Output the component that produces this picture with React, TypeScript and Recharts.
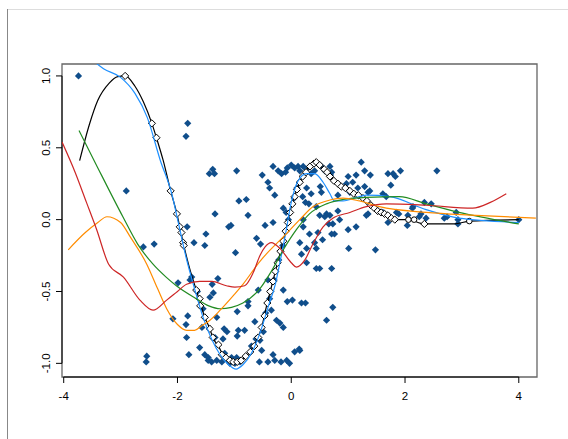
import React from "react";
import {
  ComposedChart,
  Line,
  Scatter,
  XAxis,
  YAxis,
  ReferenceLine,
  ReferenceArea,
} from "recharts";

// plot limits (R style: box a bit wider than ticks)
const X0 = -4.03;
const X1 = 4.32;
const Y0 = -1.095;
const Y1 = 1.083;

const xTicks = [-4, -2, 0, 2, 4];
const yTicks = [-1, -0.5, 0, 0.5, 1];

// observed points [x, y]
const observed: [number, number][] = [
  [-3.74, 1.0], [-2.9, 0.2], [-1.82, 0.67], [-1.85, 0.58], [-1.44, 0.32], [-1.38, 0.35], [-1.35, 0.32],
  [-1.34, 0.04], [-1.1, -0.05], [-1.83, -0.05], [-1.5, -0.1], [-1.71, -0.16], [-1.52, -0.18],
  [-2.6, -0.19], [-2.41, -0.17], [-1.99, -0.44], [-1.78, -0.42], [-1.29, -0.41], [-1.39, -0.45],
  [-1.43, -0.54], [-1.37, -0.51], [-2.08, -0.69], [-1.82, -0.67], [-1.85, -0.73], [-1.31, -0.68],
  [-1.57, -0.75], [-1.18, -0.76], [-1.84, -0.82], [-1.34, -0.82], [-1.61, -0.89], [-1.8, -0.94],
  [-1.52, -0.94], [-1.46, -0.98], [-1.4, -0.99], [-1.31, -0.98], [-1.22, -0.99], [-2.54, -0.95],
  [-2.55, -0.99], [-1.17, -0.93], [-1.11, -0.98], [-1.08, -1.0], [-0.99, -1.0], [-0.9, -0.99],
  [-0.96, -0.96], [-1.05, -0.96], [-1.46, -0.96], [-1.13, -0.78], [-1.2, -0.83], [-0.95, -0.64],
  [-0.76, -0.57], [-0.76, -0.6], [-0.58, -0.49], [-0.14, -0.49], [-0.07, -0.57], [0.02, -0.56],
  [0.18, -0.58], [0.25, -0.58], [0.27, -0.3], [0.44, -0.34], [0.5, -0.34], [0.71, -0.34],
  [0.73, -0.61], [0.62, -0.7], [-0.93, -0.77], [-0.82, -0.77], [-0.95, -0.81], [-0.64, -0.71],
  [-0.49, -0.78], [-0.55, -0.84], [-0.35, -0.63], [-0.26, -0.7], [-0.2, -0.72], [-0.14, -0.75],
  [-0.52, -0.91], [-0.32, -0.94], [-0.56, -0.99], [-0.41, -0.99], [-0.29, -0.98], [-0.18, -0.99],
  [-0.08, -0.98], [-0.03, -1.0], [0.06, -0.92], [0.14, -0.9], [-0.41, -0.42], [0.15, -0.91],
  [-0.96, 0.34], [-0.92, 0.13], [-0.79, 0.14], [-0.76, 0.03], [-1.06, -0.04], [-0.51, 0.31],
  [-0.32, 0.37], [-0.23, 0.34], [-0.17, 0.32], [-0.1, 0.33], [-0.07, 0.36], [0.0, 0.38],
  [0.06, 0.36], [0.12, 0.37], [0.15, 0.34], [0.21, 0.37], [-0.41, 0.26], [-0.38, 0.22],
  [-0.29, 0.17], [-0.14, 0.08], [-0.09, 0.05], [-0.32, -0.02], [-0.46, -0.04], [-0.61, -0.13],
  [-0.54, -0.17], [-0.98, -0.23], [0.15, -0.16], [0.18, -0.24], [-0.7, -0.88], [-0.62, -0.83],
  [-0.45, -0.65], [-0.38, -0.55], [-0.3, -0.42], [-0.22, -0.28], [-0.15, -0.18], [-0.05, 0.0],
  [0.05, 0.15], [0.1, 0.22], [-1.75, -0.4], [-1.65, -0.5], [-1.55, -0.62],
  [0.27, 0.35], [0.35, 0.32], [0.41, 0.34], [0.53, 0.37], [0.59, 0.34], [0.68, 0.37], [0.71, 0.33],
  [1.23, 0.4], [1.29, 0.34], [1.39, 0.31], [1.0, 0.3], [1.14, 0.31], [1.29, 0.23], [0.27, 0.22],
  [0.2, 0.16], [0.35, 0.18], [0.53, 0.19], [0.51, 0.23], [0.31, 0.11], [0.44, 0.09], [0.82, 0.17],
  [1.03, 0.19], [1.17, 0.22], [0.62, 0.04], [0.68, 0.03], [0.59, 0.02], [0.82, 0.06], [0.85, 0.0],
  [0.73, -0.03], [0.66, -0.03], [0.76, -0.1], [0.21, 0.0], [0.21, -0.05], [0.32, -0.1], [0.47, -0.09],
  [0.71, -0.1], [0.55, -0.14], [0.41, -0.16], [1.0, -0.07], [1.14, -0.05], [0.44, -0.2], [0.27, -0.2],
  [1.01, -0.2], [1.48, -0.21], [0.97, 0.25], [1.08, 0.26], [0.69, 0.31], [0.25, 0.12], [0.5, 0.03],
  [1.7, 0.32], [1.79, 0.32], [1.83, 0.3], [1.92, 0.34], [1.75, 0.24], [2.56, 0.34], [1.61, 0.18],
  [1.67, 0.16], [1.52, 0.06], [1.61, 0.05], [1.7, -0.02], [1.85, 0.05], [1.89, 0.04], [2.05, 0.03],
  [2.04, -0.04], [2.14, 0.09], [2.34, 0.12], [2.46, 0.11], [2.28, 0.04], [2.25, 0.02], [2.37, 0.01],
  [2.69, 0.01], [2.74, 0.02], [2.9, 0.05], [2.93, 0.0], [2.93, -0.03], [4.0, 0.0], [1.35, 0.04],
  [1.32, 0.03], [1.38, 0.2], [1.35, 0.19], [2.13, 0.08],
];

// black fit (line) and its marked points
const blackFit: [number, number][] = [
  [-3.72, 0.41], [-3.55, 0.66], [-3.4, 0.83], [-3.2, 0.95], [-3.05, 0.995], [-2.92, 1.0],
  [-2.75, 0.93], [-2.6, 0.82], [-2.45, 0.67], [-2.37, 0.57], [-2.25, 0.41], [-2.12, 0.2],
  [-2.01, 0.04], [-1.96, -0.05], [-1.9, -0.16], [-1.8, -0.32], [-1.67, -0.49], [-1.6, -0.58],
  [-1.52, -0.68], [-1.43, -0.76], [-1.38, -0.82], [-1.28, -0.88], [-1.2, -0.94], [-1.1, -0.98],
  [-0.99, -0.99], [-0.9, -0.98], [-0.82, -0.96], [-0.67, -0.89], [-0.52, -0.75], [-0.44, -0.61],
  [-0.35, -0.47], [-0.26, -0.33], [-0.2, -0.24], [-0.11, -0.1], [-0.03, 0.04], [0.03, 0.13],
  [0.12, 0.23], [0.21, 0.31], [0.3, 0.36], [0.44, 0.4], [0.55, 0.36], [0.68, 0.3], [0.85, 0.24],
  [1.03, 0.2], [1.26, 0.15], [1.46, 0.08], [1.64, 0.04], [1.82, 0.0], [2.05, 0.0], [2.34, -0.03],
  [2.64, -0.03], [2.87, -0.03], [3.13, -0.01], [4.0, 0.0],
];

const blackMarks: [number, number][] = [
  [-2.92, 1.0], [-2.45, 0.67], [-2.37, 0.57], [-2.12, 0.2], [-2.01, 0.04], [-1.96, -0.05],
  [-1.93, -0.09], [-1.9, -0.16], [-1.89, -0.18], [-1.67, -0.49], [-1.61, -0.55], [-1.6, -0.6],
  [-1.52, -0.68], [-1.43, -0.76], [-1.38, -0.82], [-1.28, -0.87], [-1.22, -0.94], [-1.15, -0.96],
  [-1.08, -0.98], [-1.02, -0.99], [-0.95, -0.99], [-0.88, -0.98], [-0.8, -0.95], [-0.72, -0.92],
  [-0.65, -0.88], [-0.58, -0.82], [-0.52, -0.75], [-0.47, -0.67], [-0.42, -0.58], [-0.37, -0.5],
  [-0.32, -0.43], [-0.28, -0.36], [-0.24, -0.3], [-0.19, -0.22], [-0.14, -0.15], [-0.1, -0.08],
  [-0.06, -0.02], [-0.02, 0.05], [0.02, 0.11], [0.06, 0.16], [0.1, 0.21], [0.15, 0.26], [0.2, 0.3],
  [0.26, 0.33], [0.33, 0.37], [0.4, 0.39], [0.44, 0.4], [0.5, 0.38], [0.58, 0.35], [0.63, 0.33],
  [0.68, 0.3], [0.75, 0.27], [0.82, 0.25], [0.88, 0.23], [0.95, 0.22], [1.03, 0.2], [1.1, 0.18],
  [1.18, 0.17], [1.26, 0.15], [1.33, 0.13], [1.4, 0.1], [1.46, 0.08], [1.52, 0.06], [1.58, 0.05],
  [1.64, 0.04], [1.7, 0.03], [1.76, 0.01], [1.82, 0.0], [2.34, -0.03],
];

const blackCircles: [number, number][] = [[2.06, 0.0], [2.16, 0.0], [3.13, -0.01]];

const blueFit: [number, number][] = [
  [-3.55, 1.13], [-3.3, 1.05], [-3.0, 0.99], [-2.75, 0.88], [-2.53, 0.71], [-2.3, 0.41],
  [-2.1, 0.18], [-1.98, -0.03], [-1.85, -0.26], [-1.7, -0.48], [-1.55, -0.68], [-1.4, -0.83],
  [-1.25, -0.94], [-1.1, -1.01], [-0.97, -1.04], [-0.85, -1.01], [-0.7, -0.93], [-0.55, -0.79],
  [-0.4, -0.6], [-0.28, -0.45], [-0.2, -0.3], [-0.11, -0.12], [0.0, 0.12], [0.12, 0.27],
  [0.27, 0.32], [0.41, 0.32], [0.56, 0.26], [0.68, 0.18], [0.76, 0.13], [0.91, 0.13], [1.2, 0.16],
  [1.32, 0.17], [1.73, 0.16], [2.37, 0.07], [2.95, 0.01], [4.0, -0.02],
];

const greenFit: [number, number][] = [
  [-3.73, 0.62], [-3.4, 0.36], [-2.96, 0.02], [-2.7, -0.17], [-2.43, -0.31], [-2.2, -0.4],
  [-2.02, -0.46], [-1.67, -0.55], [-1.45, -0.6], [-1.25, -0.62], [-1.05, -0.61], [-0.85, -0.58],
  [-0.55, -0.48], [-0.35, -0.36], [-0.14, -0.21], [0.09, -0.07], [0.32, 0.04], [0.62, 0.11],
  [0.91, 0.14], [1.32, 0.155], [1.9, 0.16], [2.37, 0.11], [2.95, 0.05], [4.0, -0.03],
];

const orangeFit: [number, number][] = [
  [-3.92, -0.21], [-3.62, -0.09], [-3.4, -0.02], [-3.24, 0.02], [-3.0, -0.02], [-2.83, -0.12],
  [-2.54, -0.31], [-2.35, -0.48], [-2.19, -0.62], [-2.0, -0.73], [-1.84, -0.77], [-1.7, -0.77],
  [-1.58, -0.74], [-1.43, -0.7], [-1.25, -0.63], [-1.0, -0.52], [-0.85, -0.45], [-0.55, -0.29],
  [-0.44, -0.24], [-0.14, -0.12], [0.15, 0.0], [0.38, 0.09], [0.62, 0.13], [0.91, 0.15],
  [1.2, 0.13], [1.55, 0.09], [2.37, 0.05], [3.25, 0.03], [4.3, 0.01],
];

const redFit: [number, number][] = [
  [-4.03, 0.54], [-3.8, 0.33], [-3.6, 0.12], [-3.42, -0.07], [-3.21, -0.31], [-2.95, -0.4],
  [-2.66, -0.56], [-2.43, -0.63], [-2.19, -0.56], [-2.0, -0.5], [-1.84, -0.45], [-1.61, -0.43],
  [-1.4, -0.43], [-1.14, -0.46], [-0.99, -0.47], [-0.82, -0.46], [-0.67, -0.37], [-0.55, -0.25],
  [-0.46, -0.19], [-0.35, -0.16], [-0.2, -0.2], [0.0, -0.3], [0.09, -0.33], [0.24, -0.28],
  [0.38, -0.17], [0.56, -0.05], [0.73, 0.01], [1.03, 0.05], [1.32, 0.09], [1.67, 0.11],
  [2.37, 0.1], [3.19, 0.08], [3.5, 0.12], [3.78, 0.18],
];

const toRows = (pts: [number, number][]) => pts.map(([x, y]) => ({ x, y }));

const FONT = '"Liberation Sans", Arial, sans-serif';

const FilledDiamond = (props: any) => {
  const { cx, cy } = props;
  if (cx == null || cy == null) return null;
  const r = 3.6;
  return (
    <polygon
      points={`${cx},${cy - r} ${cx + r},${cy} ${cx},${cy + r} ${cx - r},${cy}`}
      fill="#104E8B"
    />
  );
};

const OpenDiamond = (props: any) => {
  const { cx, cy } = props;
  if (cx == null || cy == null) return null;
  const r = 3.6;
  return (
    <polygon
      points={`${cx},${cy - r} ${cx + r},${cy} ${cx},${cy + r} ${cx - r},${cy}`}
      fill="#fff"
      stroke="#000"
      strokeWidth={1}
    />
  );
};

const OpenCircle = (props: any) => {
  const { cx, cy } = props;
  if (cx == null || cy == null) return null;
  return <circle cx={cx} cy={cy} r={2.8} fill="#fff" stroke="#000" strokeWidth={1} />;
};

const XTick = (props: any) => {
  const { x, y, payload } = props;
  return (
    <text x={x} y={y + 15} textAnchor="middle" fontSize={11.5} fontFamily={FONT} fill="#000">
      {payload.value}
    </text>
  );
};

const YTick = (props: any) => {
  const { x, y, payload } = props;
  return (
    <text
      transform={`translate(${x - 4},${y}) rotate(-90)`}
      textAnchor="middle"
      fontSize={11.5}
      fontFamily={FONT}
      fill="#000"
    >
      {Number(payload.value).toFixed(1)}
    </text>
  );
};

export default function App() {
  return (
    <div style={{ position: "absolute", left: 0, top: 0, width: 568, height: 439, background: "#fff" }}>
      {/* outer frame of the viewer */}
      <div style={{ position: "absolute", left: 7, top: 9, width: 561, height: 1, background: "#ddd" }} />
      <div style={{ position: "absolute", left: 7, top: 9, width: 1, height: 430, background: "#888" }} />
      <ComposedChart
        width={568}
        height={439}
        margin={{ top: 64, right: 31, bottom: 32, left: 32 }}
        style={{ position: "absolute", left: 0, top: 0 }}
      >
        <XAxis
          type="number"
          dataKey="x"
          domain={[X0, X1]}
          allowDataOverflow
          ticks={xTicks}
          interval={0}
          height={30}
          axisLine={false}
          tickLine={{ stroke: "#000" }}
          tickSize={6}
          tickMargin={2}
          tick={<XTick />}
        />
        <YAxis
          type="number"
          dataKey="y"
          domain={[Y0, Y1]}
          allowDataOverflow
          ticks={yTicks}
          interval={0}
          width={30}
          axisLine={false}
          tickLine={{ stroke: "#000" }}
          tickSize={6}
          tickMargin={2}
          tick={<YTick />}
        />
        <ReferenceArea x1={X0} x2={X1} y1={Y0} y2={Y1} fill="none" stroke="#666" strokeWidth={1.3} />
        <ReferenceLine segment={[{ x: -4, y: Y0 }, { x: 4, y: Y0 }]} stroke="#000" strokeWidth={1} />
        <ReferenceLine segment={[{ x: X0, y: -1 }, { x: X0, y: 1 }]} stroke="#000" strokeWidth={1} />

        <Scatter data={toRows(observed)} dataKey="y" shape={<FilledDiamond />} isAnimationActive={false} zIndex={350} />

        <Line data={toRows(blackFit)} dataKey="y" type="monotone" stroke="#000" strokeWidth={1.2} dot={false} isAnimationActive={false} />
        <Scatter data={toRows(blackMarks)} dataKey="y" shape={<OpenDiamond />} isAnimationActive={false} zIndex={410} />
        <Scatter data={toRows(blackCircles)} dataKey="y" shape={<OpenCircle />} isAnimationActive={false} zIndex={410} />

        <Line data={toRows(blueFit)} dataKey="y" type="monotone" stroke="#1E90FF" strokeWidth={1.2} dot={false} isAnimationActive={false} zIndex={420} />
        <Line data={toRows(greenFit)} dataKey="y" type="monotone" stroke="#228B22" strokeWidth={1.2} dot={false} isAnimationActive={false} zIndex={420} />
        <Line data={toRows(orangeFit)} dataKey="y" type="monotone" stroke="#FF8C00" strokeWidth={1.2} dot={false} isAnimationActive={false} zIndex={420} />
        <Line data={toRows(redFit)} dataKey="y" type="monotone" stroke="#CD2626" strokeWidth={1.2} dot={false} isAnimationActive={false} zIndex={420} />
      </ComposedChart>
    </div>
  );
}
